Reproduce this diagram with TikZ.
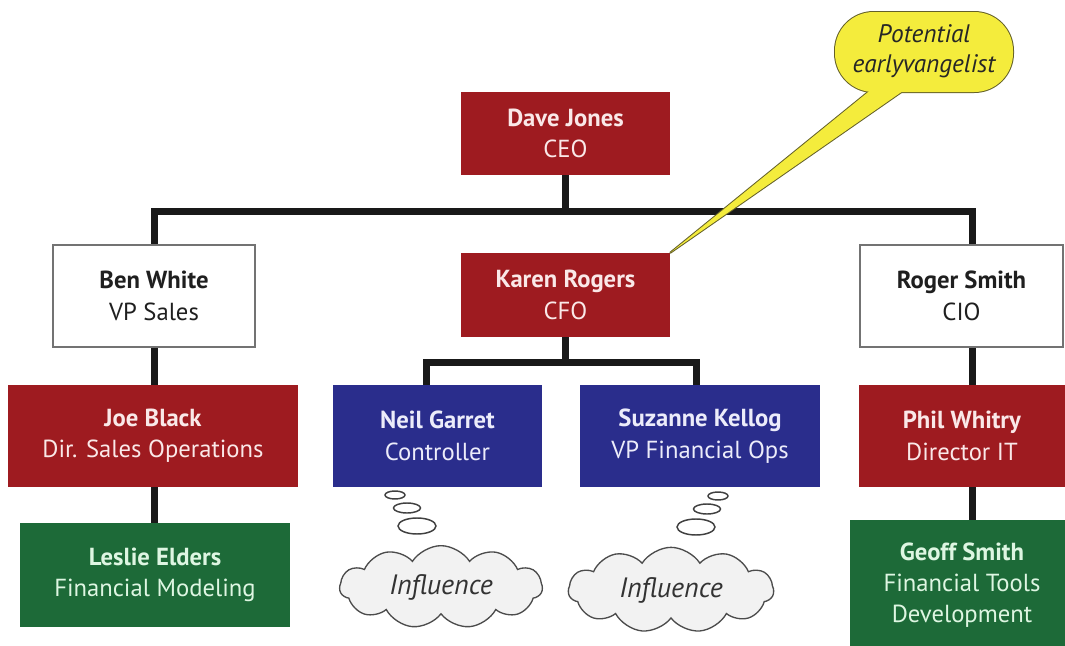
\documentclass[tikz,border=0pt]{standalone}
\usepackage{fontspec}
\setmainfont{PT Sans}
\usetikzlibrary{shapes.symbols,backgrounds}
\definecolor{boxred}{RGB}{158,27,32}
\definecolor{boxblue}{RGB}{42,45,140}
\definecolor{boxgreen}{RGB}{29,106,56}
\definecolor{redtext}{RGB}{250,232,232}
\definecolor{bluetext}{RGB}{236,236,250}
\definecolor{greentext}{RGB}{222,246,226}
\definecolor{callyellow}{RGB}{244,236,60}
\definecolor{callline}{RGB}{100,96,40}
\definecolor{cloudfill}{RGB}{242,242,242}
\begin{document}
\begin{tikzpicture}[x=0.75pt,y=-0.75pt,
  box/.style={rectangle, inner sep=0pt, align=center, font=\fontsize{18.5}{23.5}\selectfont},
  redbox/.style={box, fill=boxred, text=redtext},
  bluebox/.style={box, fill=boxblue, text=bluetext},
  greenbox/.style={box, fill=boxgreen, text=greentext},
  whitebox/.style={box, fill=white, draw=black!55, line width=1.1pt, text=black!88},
  conn/.style={line width=5.25pt, black!90, line join=miter},
  cloudy/.style={cloud, cloud puffs=11, cloud puff arc=115, aspect=2.4, draw=black!70, fill=cloudfill, line width=1pt, inner sep=0pt, font=\itshape\fontsize{21}{24}\selectfont, text=black!80},
  bub/.style={draw=black!75, fill=white, line width=1.1pt}
]
\useasboundingbox (0,0) rectangle (1065,646);
\clip (0,0) rectangle (1065,646);

% boxes
\node[redbox, minimum width=156.75pt, minimum height=62.25pt] (dave) at (565.5,133.5) {\textbf{Dave Jones}\\CEO};
\node[redbox, minimum width=156.75pt, minimum height=63pt] (karen) at (565.5,295) {\textbf{Karen Rogers}\\CFO};
\node[whitebox, minimum width=151.5pt, minimum height=76.5pt] (ben) at (154,296) {\textbf{Ben White}\\VP Sales};
\node[whitebox, minimum width=152.25pt, minimum height=76.5pt] (roger) at (961.5,296) {\textbf{Roger Smith}\\CIO};
\node[redbox, minimum width=217.5pt, minimum height=76.5pt] (joe) at (153,436) {\textbf{Joe Black}\\Dir. Sales Operations};
\node[bluebox, minimum width=156.75pt, minimum height=76.5pt] (neil) at (437.5,436) {\textbf{Neil Garret}\\Controller};
\node[bluebox, minimum width=180pt, minimum height=76.5pt] (suz) at (700,436) {\textbf{Suzanne Kellog}\\VP Financial Ops};
\node[redbox, minimum width=154.5pt, minimum height=76.5pt] (phil) at (962,436) {\textbf{Phil Whitry}\\Director IT};
\node[greenbox, minimum width=202.5pt, minimum height=78pt] (leslie) at (155,575) {\textbf{Leslie Elders}\\Financial Modeling};
\node[greenbox, minimum width=168pt, minimum height=97.5pt] (geoff) at (962,585) {\textbf{Geoff Smith}\\Financial Tools\\Development};

% connectors
\begin{scope}[on background layer]
\coordinate (barR) at (972,211);
\coordinate (cfoL) at (426,362);
\coordinate (cfoR) at (696,362);
\draw[conn] (dave.south) -- (dave.south |- barR);
\draw[conn] (ben.north) |- (barR) -- (barR |- roger.north);
\draw[conn] (ben.south) -- (ben.south |- joe.north);
\draw[conn] (ben.south |- joe.south) -- (ben.south |- leslie.north);
\draw[conn] (barR |- roger.south) -- (barR |- geoff.north);
\draw[conn] (karen.south) -- (karen.south |- cfoL);
\draw[conn] (cfoL |- neil.north) |- (cfoR) -- (cfoR |- suz.north);
\end{scope}

% thought clouds
\node[cloudy, minimum width=152pt, minimum height=62pt] (c1) at (441,587) {Influence};
\node[cloudy, minimum width=154pt, minimum height=64pt] (c2) at (671,590) {Influence};
\draw[bub] (395,495) ellipse [x radius=10, y radius=4];
\draw[bub] (407,508) ellipse [x radius=13.5, y radius=5];
\draw[bub] (417,526) ellipse [x radius=19, y radius=8];
\draw[bub] (718,496) ellipse [x radius=10, y radius=4];
\draw[bub] (707,509) ellipse [x radius=13.5, y radius=5];
\draw[bub] (696,527) ellipse [x radius=19, y radius=8];

% callout
\draw[callline, line width=1.5pt, line join=round] (878,84) -- (karen.north east) -- (913,84) -- cycle;
\draw[callline, line width=1.5pt, rounded corners=29pt] (835,12) rectangle (1013,92);
\fill[callyellow] (878,84) -- (karen.north east) -- (913,84) -- cycle;
\fill[callyellow, rounded corners=29pt] (835,12) rectangle (1013,92);
\node[font=\itshape\fontsize{19}{22.5}\selectfont, align=center, text=black!85] (callout) at (924,51) {Potential\\earlyvangelist};
\end{tikzpicture}
\end{document}
